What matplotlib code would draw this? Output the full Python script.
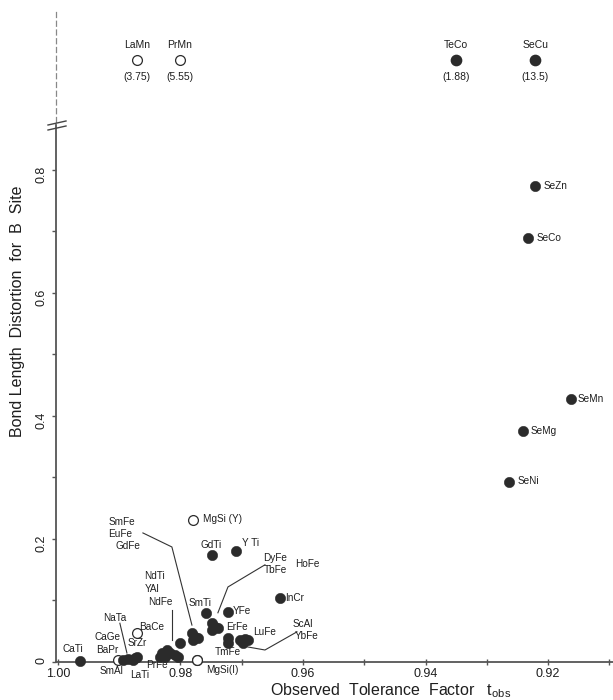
"""
Bond length distortion of the B site versus observed tolerance factor
for the perovskite series, with off-scale compounds shown above the axis break.
"""
import matplotlib
matplotlib.use('Agg')
import matplotlib.pyplot as plt
from matplotlib.lines import Line2D
from matplotlib.ticker import FixedLocator, MultipleLocator

plt.rcParams.update({
    'font.family': ['Liberation Sans', 'DejaVu Sans'],
    'text.color': '#1e1e1e',
    'axes.edgecolor': '#555555',
    'xtick.color': '#555555',
    'ytick.color': '#555555',
    'xtick.labelcolor': '#1e1e1e',
    'ytick.labelcolor': '#1e1e1e',
    'mathtext.default': 'regular',
})

# --- compounds inside the plotted range ---
names = ['CaTi', 'BaPr', 'CaGe', 'NaTa', 'LaTi', 'SrZr',
         'PrFe', 'NdFe', 'NdTi', 'YAl', '', '', '', '',
         'SmFe', 'EuFe', 'GdFe', '',
         'SmTi', 'DyFe', 'TbFe', 'HoFe', '',
         'YFe', 'ErFe', 'TmFe',
         'LuFe', 'ScAl', 'YbFe', '',
         'InCr', 'GdTi', 'YTi',
         'SeZn', 'SeCo', 'SeMn', 'SeMg', 'SeNi']
t_obs = [0.9964, 0.9894, 0.9886, 0.9878, 0.9874, 0.9871,
         0.9833, 0.9830, 0.9825, 0.9822, 0.9817, 0.9809, 0.9804, 0.9801,
         0.9781, 0.9776, 0.9780, 0.9771,
         0.9758, 0.9749, 0.9744, 0.9749, 0.9739,
         0.9722, 0.9722, 0.9722,
         0.9703, 0.9695, 0.9690, 0.9698,
         0.9638, 0.9749, 0.9709,
         0.9221, 0.9233, 0.9162, 0.9241, 0.9264]
dist_b = [0.002, 0.003, 0.005, 0.003, 0.006, 0.008,
          0.008, 0.015, 0.008, 0.020, 0.015, 0.011, 0.008, 0.031,
          0.047, 0.041, 0.036, 0.039,
          0.080, 0.063, 0.057, 0.052, 0.055,
          0.081, 0.039, 0.031,
          0.036, 0.037, 0.036, 0.031,
          0.104, 0.174, 0.180,
          0.774, 0.689, 0.428, 0.376, 0.293]

# open symbols
open_names = ['SmAl', 'BaCe', 'MgSi(I)', 'MgSi(Y)']
open_t = [0.9902, 0.9871, 0.9773, 0.9780]
open_dist = [0.003, 0.047, 0.003, 0.231]

# --- compounds off the top of the scale (distortion in brackets) ---
off_names = ['LaMn', 'PrMn', 'TeCo', 'SeCu']
off_t = [0.9871, 0.9801, 0.9350, 0.9221]
off_dist = [3.75, 5.55, 1.88, 13.5]
off_open = [True, True, False, False]

x_ticks = [1.00, 0.98, 0.96, 0.94, 0.92]
x_tick_labels = ['1.00', '0.98', '0.96', '0.94', '0.92']
y_ticks = [0.0, 0.2, 0.4, 0.6, 0.8]
y_tick_labels = ['0', '0.2', '0.4', '0.6', '0.8']

# label text, position (t, distortion), horizontal alignment
labels = [
    ('SeZn', 0.9208, 0.774, 'left'), ('SeCo', 0.9218, 0.689, 'left'),
    ('SeMn', 0.9151, 0.428, 'left'), ('SeMg', 0.9228, 0.376, 'left'),
    ('SeNi', 0.9249, 0.294, 'left'),
    ('MgSi (Y)', 0.9763, 0.233, 'left'), ('GdTi', 0.9750, 0.190, 'center'),
    ('Y Ti', 0.9700, 0.193, 'left'), ('InCr', 0.9629, 0.104, 'left'),
    ('YFe', 0.9714, 0.083, 'left'),
    ('SmFe', 0.98955, 0.228, 'center'), ('EuFe', 0.98988, 0.208, 'center'),
    ('GdFe', 0.98857, 0.188, 'center'),
    ('NdTi', 0.98416, 0.139, 'center'), ('YAl', 0.98465, 0.119, 'center'),
    ('NdFe', 0.98335, 0.098, 'center'), ('SmTi', 0.97682, 0.096, 'center'),
    ('DyFe', 0.96457, 0.169, 'center'), ('TbFe', 0.96457, 0.150, 'center'),
    ('HoFe', 0.95935, 0.159, 'center'),
    ('ErFe', 0.97078, 0.057, 'center'), ('TmFe', 0.97224, 0.016, 'center'),
    ('LuFe', 0.96620, 0.049, 'center'),
    ('ScAl', 0.96000, 0.061, 'center'), ('YbFe', 0.95935, 0.043, 'center'),
    ('BaCe', 0.98465, 0.057, 'center'), ('NaTa', 0.99069, 0.0715, 'center'),
    ('CaGe', 0.99184, 0.041, 'center'), ('BaPr', 0.99200, 0.0195, 'center'),
    ('SrZr', 0.98710, 0.031, 'center'), ('CaTi', 0.99755, 0.021, 'center'),
    ('SmAl', 0.99118, -0.0146, 'center'), ('LaTi', 0.98661, -0.021, 'center'),
    ('PrFe', 0.98384, -0.005, 'center'), ('MgSi(I)', 0.97322, -0.013, 'center'),
]

# leader lines from grouped labels into the cluster
leaders = [
    [(0.98612, 0.2098), (0.98139, 0.187), (0.97812, 0.060)],
    [(0.98139, 0.085), (0.98139, 0.036)],
    [(0.96620, 0.158), (0.97224, 0.122), (0.97388, 0.080)],
    [(0.96098, 0.049), (0.96620, 0.0195), (0.96898, 0.0244)],
    [(0.98988, 0.063), (0.98873, 0.0146)],
]

INK = '#2b2b2b'


def plot_distortion():
    fig = plt.figure(figsize=(6.13, 7.0), dpi=100)
    ax = fig.add_axes([0.0914, 0.0543, 0.9086, 0.7671])
    ax_top = fig.add_axes([0.0914, 0.8257, 0.9086, 0.157])

    # main panel
    ax.scatter(open_t, open_dist, s=50, facecolors='white', edgecolors=INK,
               linewidths=0.9, zorder=3, clip_on=False)
    ax.scatter(t_obs, dist_b, s=55, color=INK, edgecolors=INK,
               linewidths=0.4, zorder=4, clip_on=False)
    # MgSi(I) sits on the axis line, keep it above the spine
    ax.scatter(open_t[2:3], open_dist[2:3], s=50, facecolors='white',
               edgecolors=INK, linewidths=0.9, zorder=5, clip_on=False)

    for pts in leaders:
        xs, ys = zip(*pts)
        ax.plot(xs, ys, color='#333333', lw=0.8, clip_on=False, zorder=2)

    for text, x, y, ha in labels:
        ax.text(x, y, text, fontsize=7.2, ha=ha, va='center', clip_on=False)

    ax.set_xlim(1.0003, 0.9094)
    ax.set_ylim(0, 0.873)
    for side in ('top', 'right'):
        ax.spines[side].set_visible(False)
    ax.spines['left'].set_linewidth(1.3)
    ax.spines['bottom'].set_linewidth(1.3)

    ax.xaxis.set_major_locator(FixedLocator(x_ticks))
    ax.set_xticklabels(x_tick_labels)
    ax.xaxis.set_minor_locator(MultipleLocator(0.01))
    ax.tick_params(axis='x', which='both', direction='inout', length=5,
                   width=1, labelsize=9, pad=1.5)
    ax.yaxis.set_major_locator(FixedLocator(y_ticks))
    ax.set_yticklabels(y_tick_labels)
    ax.yaxis.set_minor_locator(MultipleLocator(0.1))
    ax.tick_params(axis='y', which='both', direction='out', length=3,
                   width=1, labelsize=9, pad=3, labelrotation=90)

    # off-scale strip above the break
    ax_top.set_xlim(ax.get_xlim())
    ax_top.set_ylim(0, 1)
    row = [0.564] * len(off_t)
    for x, y, name, val, hollow in zip(off_t, row, off_names, off_dist, off_open):
        if hollow:
            ax_top.scatter([x], [y], s=50, facecolors='white', edgecolors=INK,
                           linewidths=0.9, zorder=3)
        else:
            ax_top.scatter([x], [y], s=55, color=INK, zorder=3)
        ax_top.annotate(name, (x, y), xytext=(0, 11), textcoords='offset points',
                        ha='center', va='center', fontsize=7.5)
        ax_top.annotate(f'({val:g})', (x, y), xytext=(0, -12),
                        textcoords='offset points', ha='center', va='center',
                        fontsize=7.5)
    for side in ('top', 'right', 'bottom'):
        ax_top.spines[side].set_visible(False)
    ax_top.spines['left'].set_linestyle((0, (4, 3)))
    ax_top.spines['left'].set_linewidth(0.9)
    ax_top.spines['left'].set_color('#888888')
    ax_top.set_xticks([])
    ax_top.set_yticks([])
    ax_top.patch.set_alpha(0)

    # axis break marks
    x0, x1 = 48 / 613, 66 / 613
    for yb in (123, 128):
        fig.add_artist(Line2D([x0, x1], [1 - (yb + 2) / 700, 1 - (yb - 2) / 700],
                              transform=fig.transFigure, color='#444444', lw=1.0))

    fig.text(18 / 613, 1 - 311 / 700, 'Bond Length  Distortion  for  B  Site',
             rotation=90, ha='center', va='center', fontsize=11.5)
    fig.text(391 / 613, 5 / 700,
             r'Observed  Tolerance  Factor   $t_{obs}$',
             ha='center', va='baseline', fontsize=11.5)

    fig.savefig('out.png', dpi=100)
    plt.close(fig)


if __name__ == '__main__':
    plot_distortion()
